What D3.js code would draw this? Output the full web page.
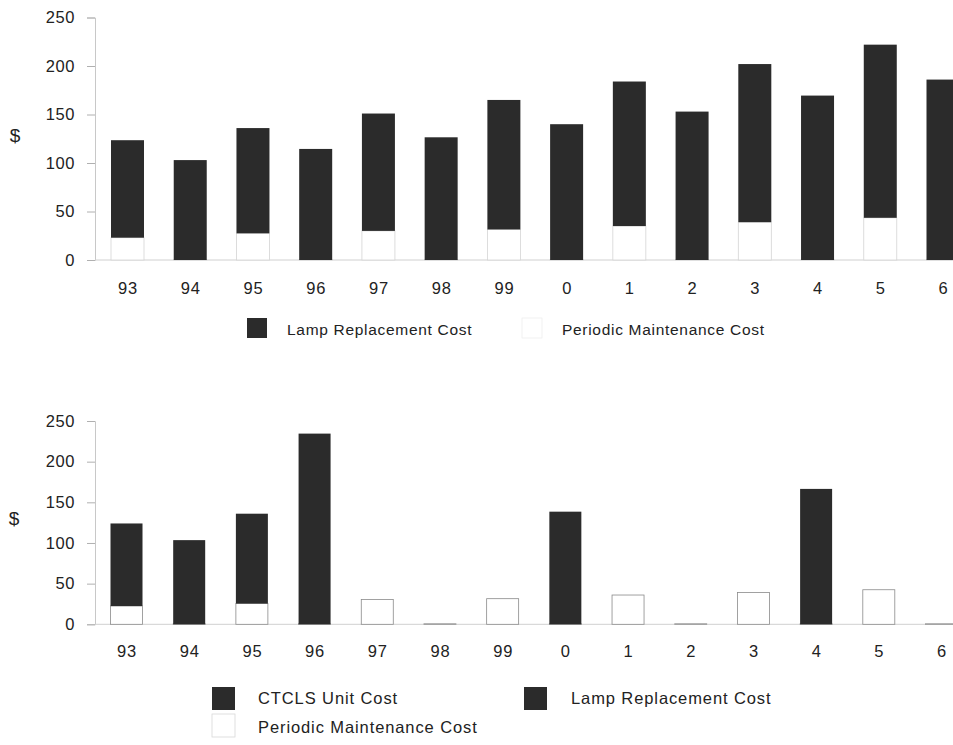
<!DOCTYPE html>
<html>
<head>
<meta charset="utf-8">
<script src="https://cdn.jsdelivr.net/npm/d3@7"></script>
<style>
  body { margin: 0; background: #fff; }
  text { font-family: "Liberation Sans", Arial, Helvetica, sans-serif; fill: #222; }
</style>
</head>
<body>
<svg id="drawing_region"></svg>
<script>
// years on the x axis (19xx then 20xx)
const years = ['93', '94', '95', '96', '97', '98', '99', '0', '1', '2', '3', '4', '5', '6'];
const yTicks = [0, 50, 100, 150, 200, 250];

// upper chart
const topPeriodic = [23, 0, 27.5, 0, 30, 0, 31.5, 0, 35, 0, 39, 0, 43.5, 0];
const topLamp = [100.5, 103, 108.5, 114.5, 121, 126.5, 133.5, 140, 149, 153, 163, 169.5, 178.5, 186];

// lower chart
const botPeriodic = [22.5, 0, 25.5, 0, 30.5, 0, 31.5, 0, 36, 0, 39, 0, 42.5, 0];
const botLamp = [101.5, 103.5, 110.5, 0, 0, 0, 0, 138.5, 0, 0, 0, 166.5, 0, 0];
const botCtcls = [0, 0, 0, 234.5, 0, 0, 0, 0, 0, 0, 0, 0, 0, 0];

const dark = '#2b2b2b';

const svg = d3.select('#drawing_region')
    .attr('width', 953)
    .attr('height', 745);

function drawChart(cfg) {
    const rows = years.map((y, i) => {
        const r = { year: y };
        cfg.series.forEach(s => { r[s.key] = s.values[i]; });
        return r;
    });

    const x = d3.scalePoint().domain(years).range(cfg.xRange);
    const y = d3.scaleLinear().domain([0, 250]).range(cfg.yRange);

    const stack = d3.stack().keys(cfg.series.map(s => s.key));
    const layers = stack(rows);

    const g = svg.append('g');

    // y axis
    const yAxis = g.append('g')
        .attr('transform', `translate(${cfg.axisX},0)`)
        .call(d3.axisLeft(y).tickValues(yTicks).tickSize(8).tickPadding(12));
    yAxis.select('.domain').attr('stroke', '#c8c8c8');
    yAxis.selectAll('.tick line').attr('stroke', '#b0b0b0');
    yAxis.selectAll('.tick text')
        .style('font-size', cfg.tickFont + 'px')
        .style('letter-spacing', '0.6px')
        .attr('fill', '#222');

    // x baseline + labels
    const xAxis = g.append('g')
        .attr('transform', `translate(0,${y(0)})`)
        .call(d3.axisBottom(x).tickSize(0).tickPadding(cfg.xPad));
    xAxis.select('.domain').attr('stroke', '#d0d0d0')
        .attr('d', `M${cfg.axisX},0H${cfg.xRange[1] + 20}`);
    xAxis.selectAll('.tick text')
        .style('font-size', cfg.tickFont + 'px')
        .style('letter-spacing', '0.8px')
        .attr('fill', '#222');

    // stacked bars (zero-height white segments still show as a line)
    layers.forEach((layer, li) => {
        const s = cfg.series[li];
        g.append('g')
            .selectAll('rect')
            .data(layer.filter(d => s.white || d[1] - d[0] > 0))
            .join('rect')
            .attr('x', d => x(d.data.year) - cfg.barW / 2)
            .attr('width', cfg.barW)
            .attr('y', d => y(d[1]) - (d[1] - d[0] > 0 ? 0 : 0.5))
            .attr('height', d => Math.max(y(d[0]) - y(d[1]), 0.5))
            .attr('fill', s.white ? '#fff' : dark)
            .attr('stroke', s.white ? cfg.whiteStroke : 'none')
            .attr('stroke-width', 0.8);
    });

    // "$" axis title
    g.append('text')
        .attr('x', cfg.dollar[0])
        .attr('y', cfg.dollar[1])
        .attr('text-anchor', 'middle')
        .attr('dominant-baseline', 'middle')
        .style('font-size', '19px')
        .text('$');

    // legend
    cfg.legend.forEach(l => {
        const s = cfg.series.find(d => d.key === l.key);
        g.append('rect')
            .attr('x', l.x).attr('y', l.y)
            .attr('width', l.size).attr('height', l.size)
            .attr('fill', s.white ? '#fff' : dark)
            .attr('stroke', s.white ? cfg.legendStroke : 'none')
            .attr('stroke-width', 0.8);
        g.append('text')
            .attr('x', l.tx)
            .attr('y', l.ty)
            .style('font-size', cfg.legendFont + 'px')
            .style('letter-spacing', cfg.legendSpacing + 'px')
            .text(s.label);
    });
}

drawChart({
    xRange: [127.5, 943],
    yRange: [260, 17.5],
    axisX: 95,
    barW: 33,
    xPad: 22,
    tickFont: 16.5,
    whiteStroke: '#d4d4d4',
    legendStroke: '#eeeeee',
    dollar: [15, 137],
    legendFont: 15.5,
    legendSpacing: 0.7,
    series: [
        { key: 'periodic', label: 'Periodic Maintenance Cost', values: topPeriodic, white: true },
        { key: 'lamp', label: 'Lamp Replacement Cost', values: topLamp }
    ],
    legend: [
        { key: 'lamp', x: 247, y: 318, size: 20, tx: 287, ty: 335 },
        { key: 'periodic', x: 522, y: 318, size: 20, tx: 562, ty: 335 }
    ]
});

drawChart({
    xRange: [126.5, 941.5],
    yRange: [624.3, 421],
    axisX: 95,
    barW: 32,
    xPad: 21,
    tickFont: 16.5,
    whiteStroke: '#8a8a8a',
    legendStroke: '#d8d8d8',
    dollar: [14, 520],
    legendFont: 16.5,
    legendSpacing: 0.9,
    series: [
        { key: 'periodic', label: 'Periodic Maintenance Cost', values: botPeriodic, white: true },
        { key: 'lamp', label: 'Lamp Replacement Cost', values: botLamp },
        { key: 'ctcls', label: 'CTCLS Unit Cost', values: botCtcls }
    ],
    legend: [
        { key: 'ctcls', x: 212, y: 687, size: 23, tx: 258, ty: 704 },
        { key: 'lamp', x: 524, y: 687, size: 23, tx: 571, ty: 704 },
        { key: 'periodic', x: 212, y: 714, size: 23, tx: 258, ty: 733 }
    ]
});
</script>
</body>
</html>
